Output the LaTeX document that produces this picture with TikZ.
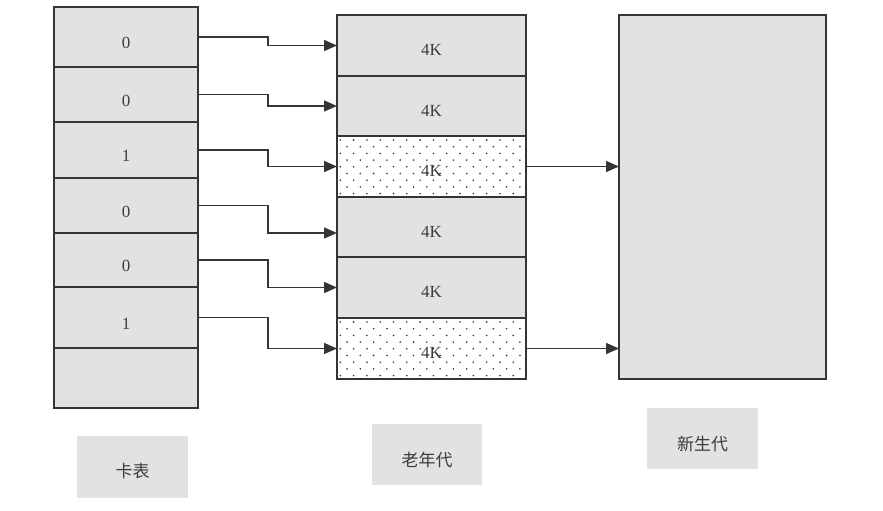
\documentclass[tikz,border=0pt]{standalone}
\usepackage{fontspec}
\setmainfont{Liberation Serif}
\newfontfamily\cjk{Noto Sans CJK SC}
\usetikzlibrary{arrows.meta,calc}
\definecolor{boxfill}{HTML}{E2E2E2}
\definecolor{ink}{HTML}{353535}
\definecolor{txt}{HTML}{3C3C3C}
\begin{document}
\begin{tikzpicture}[x=1pt,y=-1pt,
  cell/.style={draw=ink,line width=1.5pt,fill=boxfill,inner sep=0pt,outer sep=0pt,anchor=north west},
  dotcell/.style={cell,fill=white},
  num/.style={inner sep=0pt,text=txt,font=\fontsize{17}{19}\selectfont},
  kb/.style={inner sep=0pt,text=txt,font=\fontsize{17}{19}\selectfont},
  tag/.style={fill=boxfill,inner sep=0pt,anchor=north west},
  tagtext/.style={text=txt,font=\cjk\fontsize{17}{19}\selectfont,inner sep=0pt},
  conn/.style={draw=ink,line width=1.4pt,-{Triangle[length=13pt,width=11pt]}}]
\useasboundingbox (0,0) rectangle (883,511);
% card table
\foreach \i/\t/\b/\l in {1/7/67/0,2/67/122/0,3/122/178/1,4/178/233/0,5/233/287/0,6/287/348/1,7/348/408/{}}{
  \node[cell,minimum width=144pt,minimum height={(\b-\t)*1pt}] (c\i) at (54,\t) {};
  \node[num] (lc\i) at ($(c\i.center)+(0,6)$) {\l};
}
% old generation
\foreach \i/\t/\b in {1/15/76,2/76/136,4/197/257,5/257/318}{
  \node[cell,minimum width=189pt,minimum height={(\b-\t)*1pt}] (o\i) at (337,\t) {};
}
\foreach \i/\t/\b in {3/136/197,6/318/379}{
  \node[dotcell,minimum width=189pt,minimum height={(\b-\t)*1pt}] (o\i) at (337,\t) {};
  \begin{scope}
    \clip (o\i.north west) rectangle (o\i.south east);
    \foreach \r in {0,...,9}{
      \foreach \k in {0,...,14}{
        \fill[ink] ({337+3.3+13.3*\k+mod(\r,2)*6.7},{\t+4+6.7*\r}) circle (0.9);
      }
    }
  \end{scope}
}
\foreach \i in {1,...,6}{
  \node[kb] (lo\i) at ($(o\i.center)+(0,4.5)$) {4K};
}
% young generation
\node[cell,minimum width=207pt,minimum height=364pt] (y) at (619,15) {};
% connectors
\draw[conn] (c1.east) -- ++(70,0) |- (o1.west);
\draw[conn] (c2.east) -- ++(70,0) |- (o2.west);
\draw[conn] (c3.east) -- ++(70,0) |- (o3.west);
\draw[conn] (c4.east) -- ++(70,0) |- ($(o4.west)+(0,6)$);
\draw[conn] (c5.east) -- ++(70,0) |- (o5.west);
\draw[conn] (c6.east) -- ++(70,0) |- (o6.west);
\draw[conn] (o3.east) -- (o3.east -| y.west);
\draw[conn] (o6.east) -- (o6.east -| y.west);
% captions
\node[tag,minimum width=111pt,minimum height=62pt] (t1) at (77,436) {};
\node[tagtext] (tt1) at ($(t1.center)+(0,4)$) {卡表};
\node[tag,minimum width=110pt,minimum height=61pt] (t2) at (372,424) {};
\node[tagtext] (tt2) at ($(t2.center)+(0,5)$) {老年代};
\node[tag,minimum width=111pt,minimum height=61pt] (t3) at (647,408) {};
\node[tagtext] (tt3) at ($(t3.center)+(0,5)$) {新生代};
\end{tikzpicture}
\end{document}
